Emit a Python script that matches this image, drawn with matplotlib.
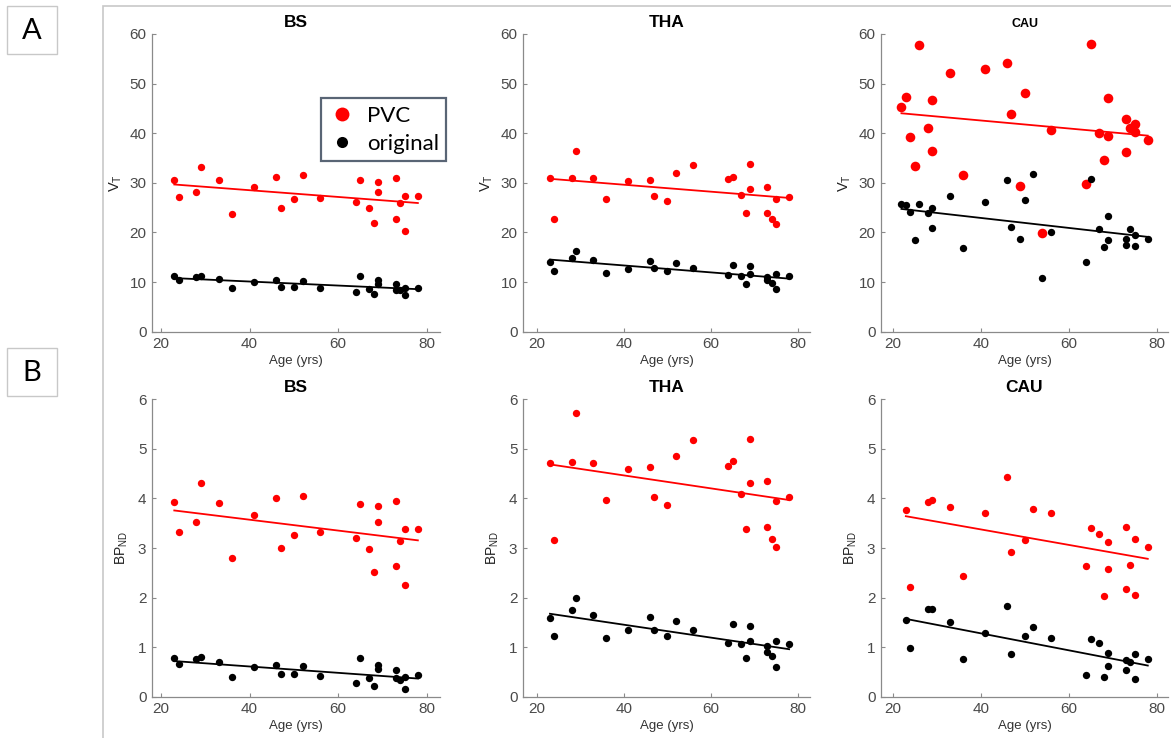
import numpy as np
import matplotlib
matplotlib.use("Agg")
import matplotlib.pyplot as plt
from matplotlib.lines import Line2D
from matplotlib.patches import Rectangle

plt.rcParams['font.family'] = ['Liberation Sans', 'DejaVu Sans']

# ---- data -------------------------------------------------------------
age = [23, 24, 28, 29, 33, 36, 41, 46, 47, 50, 52, 56,
       64, 65, 67, 68, 69, 69, 73, 73, 74, 75, 75, 78]

age_cau_vt_pvc = [22, 23, 24, 25, 26, 28, 29, 29, 33, 36, 41, 46, 47, 49, 50,
                  54, 56, 64, 65, 67, 68, 69, 69, 73, 73, 74, 75, 75, 78]
age_cau_vt_orig = [22, 23, 24, 25, 26, 28, 29, 29, 33, 36, 41, 46, 47, 49, 50,
                   52, 54, 56, 64, 65, 67, 68, 69, 69, 73, 73, 74, 75, 75, 78]

bs_vt_pvc = [30.6, 27.1, 28.1, 33.1, 30.6, 23.8, 29.2, 31.2, 24.9, 26.7, 31.5, 26.9,
             26.1, 30.6, 24.9, 22.0, 30.2, 28.2, 30.9, 22.7, 25.9, 27.4, 20.3, 27.4]
bs_vt_orig = [11.2, 10.4, 11.1, 11.2, 10.6, 8.8, 10.1, 10.4, 9.1, 9.1, 10.2, 8.9,
              8.1, 11.2, 8.7, 7.6, 10.4, 9.6, 9.7, 8.5, 8.4, 8.8, 7.3, 8.9]

tha_vt_pvc = [31.0, 22.7, 31.0, 36.4, 30.9, 26.8, 30.4, 30.5, 27.3, 26.3, 31.9, 33.5,
              30.7, 31.2, 27.6, 23.9, 33.7, 28.8, 29.1, 24.0, 22.7, 26.7, 21.8, 27.2]
tha_vt_orig = [14.0, 12.2, 14.8, 16.3, 14.4, 11.9, 12.7, 14.3, 12.8, 12.2, 13.8, 12.8,
               11.4, 13.4, 11.2, 9.7, 13.3, 11.6, 11.0, 10.4, 9.9, 11.6, 8.7, 11.2]

cau_vt_pvc = [45.2, 47.4, 39.2, 33.4, 57.7, 41.1, 46.7, 36.5, 52.2, 31.5, 52.9, 54.1,
              43.9, 29.4, 48.2, 19.8, 40.6, 29.8, 58.0, 40.1, 34.6, 47.2, 39.4, 42.9,
              36.2, 41.1, 41.8, 40.3, 38.6]
cau_vt_orig = [25.8, 25.5, 24.2, 18.5, 25.8, 23.9, 24.9, 21.0, 27.4, 16.9, 26.1, 30.6,
               21.1, 18.6, 26.5, 31.7, 10.9, 20.0, 14.0, 30.8, 20.6, 17.1, 23.4, 18.5,
               18.6, 17.5, 20.6, 19.4, 17.3, 18.6]

bs_bp_pvc = [3.92, 3.33, 3.52, 4.31, 3.91, 2.79, 3.67, 4.01, 2.99, 3.27, 4.05, 3.32,
             3.20, 3.89, 2.98, 2.52, 3.85, 3.52, 3.95, 2.64, 3.15, 3.38, 2.25, 3.39]
bs_bp_orig = [0.78, 0.65, 0.77, 0.80, 0.69, 0.40, 0.60, 0.63, 0.46, 0.46, 0.62, 0.41,
              0.28, 0.79, 0.38, 0.22, 0.64, 0.55, 0.54, 0.37, 0.34, 0.39, 0.16, 0.43]

tha_bp_pvc = [4.72, 3.17, 4.73, 5.72, 4.71, 3.96, 4.60, 4.63, 4.03, 3.86, 4.86, 5.18,
              4.65, 4.76, 4.08, 3.39, 5.20, 4.32, 4.35, 3.42, 3.18, 3.94, 3.03, 4.02]
tha_bp_orig = [1.58, 1.23, 1.74, 2.00, 1.65, 1.18, 1.34, 1.61, 1.35, 1.23, 1.53, 1.35,
               1.08, 1.46, 1.06, 0.79, 1.43, 1.12, 1.02, 0.90, 0.82, 1.12, 0.59, 1.06]

cau_bp_pvc = [3.77, 2.22, 3.92, 3.97, 3.82, 2.44, 3.71, 4.44, 2.91, 3.17, 3.79, 3.71,
              2.64, 3.40, 3.28, 2.04, 3.13, 2.58, 3.42, 2.17, 2.66, 3.19, 2.06, 3.03]
cau_bp_orig = [1.55, 0.99, 1.76, 1.76, 1.51, 0.77, 1.28, 1.82, 0.87, 1.22, 1.40, 1.18,
               0.43, 1.16, 1.08, 0.39, 0.88, 0.62, 0.74, 0.54, 0.69, 0.86, 0.35, 0.77]

regions = ["BS", "THA", "CAU"]
y_ticks_vt = [0, 10, 20, 30, 40, 50, 60]
y_ticks_bp = [0, 1, 2, 3, 4, 5, 6]
x_ticks = [20, 40, 60, 80]

# ---- figure -----------------------------------------------------------
W, H = 1171, 738
fig = plt.figure(figsize=(W / 100, H / 100), dpi=100)
fig.patch.set_facecolor("white")

# outer frame and panel letters
frame_col = "#c8c8c8"
fig.add_artist(Rectangle((103 / W, -0.01), 1.02, 1 - 6 / H + 0.01,
                         transform=fig.transFigure, fill=False,
                         edgecolor=frame_col, linewidth=1.2))
for letter, top in (("A", 6), ("B", 348)):
    fig.add_artist(Rectangle((7 / W, 1 - (top + 48) / H), 50 / W, 48 / H,
                             transform=fig.transFigure, fill=False,
                             edgecolor=frame_col, linewidth=1.0))
    fig.text(32 / W, 1 - (top + 25) / H, letter, ha="center", va="center",
             fontsize=21, family=["Lato", "DejaVu Sans"], color="black")

col_px = [(152, 440, (17.97, 83.0)), (523, 810, (16.8, 82.8)), (881, 1168, (17.35, 82.6))]
row_px = [(34, 331.7), (399.3, 696.7)]

axis_col = "#8a8a8a"
tick_col = "#4a4a4a"

panels = [
    [(age, bs_vt_pvc, age, bs_vt_orig),
     (age, tha_vt_pvc, age, tha_vt_orig),
     (age_cau_vt_pvc, cau_vt_pvc, age_cau_vt_orig, cau_vt_orig)],
    [(age, bs_bp_pvc, age, bs_bp_orig),
     (age, tha_bp_pvc, age, tha_bp_orig),
     (age, cau_bp_pvc, age, cau_bp_orig)],
]

for r, (top, bot) in enumerate(row_px):
    for c, (left, right, xlim) in enumerate(col_px):
        ax = fig.add_axes([left / W, 1 - bot / H, (right - left) / W, (bot - top) / H])
        xr, yr, xo, yo = panels[r][c]
        big = (r == 0 and c == 2)
        ax.scatter(xr, yr, s=48 if big else 28, color="#ff0000", linewidths=0, zorder=3)
        ax.scatter(xo, yo, s=28, color="black", linewidths=0, zorder=3)
        for xs, ys, col in ((xr, yr, "#ff0000"), (xo, yo, "black")):
            xs = np.asarray(xs, float)
            ys = np.asarray(ys, float)
            k, b = np.polyfit(xs, ys, 1)
            xx = np.array([xs.min(), xs.max()])
            ax.plot(xx, k * xx + b, color=col, linewidth=1.3, zorder=2)

        ax.set_xlim(*xlim)
        if r == 0:
            ax.set_ylim(0, 60)
            ax.set_yticks(y_ticks_vt)
            ax.set_ylabel("V$_\\mathregular{T}$", fontsize=10.5, color="#222222", labelpad=4)
        else:
            ax.set_ylim(0, 6)
            ax.set_yticks(y_ticks_bp)
            ax.set_ylabel("BP$_\\mathregular{ND}$", fontsize=10, color="#222222", labelpad=6)
        ax.set_xticks(x_ticks)
        ax.set_xlabel("Age (yrs)", fontsize=9.5, color="#333333", labelpad=3)
        ax.set_title(regions[c], fontsize=9 if big else 12.5, fontweight="bold", pad=5)

        for s in ("top", "right"):
            ax.spines[s].set_visible(False)
        for s in ("left", "bottom"):
            ax.spines[s].set_color(axis_col)
            ax.spines[s].set_linewidth(0.9)
        ax.tick_params(direction="in", length=3, width=0.8, color=axis_col,
                       labelcolor=tick_col, labelsize=11, pad=4)
        ax.set_facecolor("white")

        if r == 0 and c == 0:
            handles = [Line2D([], [], linestyle="none", marker="o", markersize=10,
                              markerfacecolor="#ff0000", markeredgecolor="none"),
                       Line2D([], [], linestyle="none", marker="o", markersize=8,
                              markerfacecolor="black", markeredgecolor="none")]
            leg = ax.legend(handles, ["PVC", "original"], loc="upper left",
                            bbox_to_anchor=((310 - left) / (right - left),
                                            (bot - 87) / (bot - top)),
                            frameon=True, fancybox=False, handletextpad=0.5,
                            handlelength=1.2, borderpad=0.35, labelspacing=0.35,
                            prop={"family": ["Lato", "DejaVu Sans"], "size": 16})
            leg.get_frame().set_edgecolor("#2f3e52")
            leg.get_frame().set_linewidth(1.6)

fig.savefig("out.png", dpi=100)
